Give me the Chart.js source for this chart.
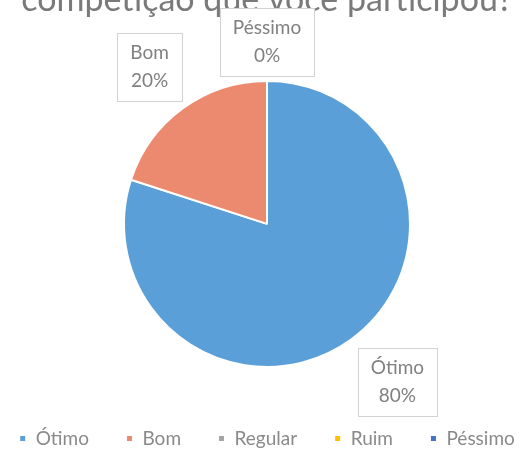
<!DOCTYPE html>
<html>
<head>
<meta charset="utf-8">
<script src="https://cdn.jsdelivr.net/npm/chart.js@4"></script>
<style>
  html, body { margin: 0; padding: 0; background: #fff; overflow: hidden; }
  #wrap { position: absolute; left: -28px; top: -20px; width: 590px; height: 478px; }
</style>
</head>
<body>
<div id="wrap"><canvas id="pieChart"></canvas></div>
<script>
const titleText = "competição que você participou?";
const categories = ["Ótimo", "Bom", "Regular", "Ruim", "Péssimo"];
const values = [80, 20, 0, 0, 0];
const colors = ["#5a9fd8", "#ec8a70", "#a5a5a5", "#ffc000", "#4472c4"];

// callout boxes: which slices get one, distance past the rim and angle nudge (deg)
const callouts = {
  "Ótimo": { gap: 62, shift: -3.5 },
  "Bom": { gap: 53, shift: -0.8 },
  "Péssimo": { gap: 39, shift: 0 }
};

const calloutPlugin = {
  id: "callouts",
  afterDatasetsDraw(chart) {
    const ctx = chart.ctx;
    const meta = chart.getDatasetMeta(0);
    const total = values.reduce((a, b) => a + b, 0);
    ctx.save();
    ctx.font = "19px Lato";
    ctx.textAlign = "center";
    ctx.textBaseline = "middle";
    meta.data.forEach((arc, i) => {
      const c = callouts[categories[i]];
      if (!c) return;
      const p = arc.getProps(["x", "y", "startAngle", "endAngle", "outerRadius"], true);
      const mid = (p.startAngle + p.endAngle) / 2 + c.shift * Math.PI / 180;
      const d = p.outerRadius + c.gap;
      const cx = p.x + Math.cos(mid) * d;
      const cy = p.y + Math.sin(mid) * d;
      const pct = Math.round(values[i] / total * 100) + "%";
      const w = Math.round(Math.max(ctx.measureText(categories[i]).width, ctx.measureText(pct).width) + 26);
      const h = 68;
      const x0 = Math.round(cx - w / 2), y0 = Math.round(cy - h / 2);
      ctx.fillStyle = "#fff";
      ctx.fillRect(x0, y0, w, h);
      ctx.strokeStyle = "#d2d2d2";
      ctx.lineWidth = 1;
      ctx.strokeRect(x0 + 0.5, y0 + 0.5, w, h);
      ctx.fillStyle = "#808080";
      ctx.fillText(categories[i], cx, cy - 14);
      ctx.fillText(pct, cx, cy + 14);
    });
    ctx.restore();
  }
};

new Chart(document.getElementById("pieChart"), {
  type: "pie",
  data: {
    labels: categories,
    datasets: [{
      data: values,
      backgroundColor: colors,
      borderColor: "#fff",
      borderWidth: 2,
      radius: 143
    }]
  },
  options: {
    responsive: true,
    maintainAspectRatio: false,
    animation: false,
    layout: { padding: 0 },
    plugins: {
      title: {
        display: true,
        text: titleText,
        color: "#7a7a7a",
        font: { family: "Lato", size: 34, weight: "normal" },
        padding: { top: 0, bottom: 35 }
      },
      legend: {
        position: "bottom",
        labels: {
          boxWidth: 7,
          boxHeight: 7,
          padding: 37,
          color: "#8a8a8a",
          font: { family: "Lato", size: 19 }
        }
      },
      tooltip: { enabled: false }
    }
  },
  plugins: [calloutPlugin]
});
</script>
</body>
</html>
